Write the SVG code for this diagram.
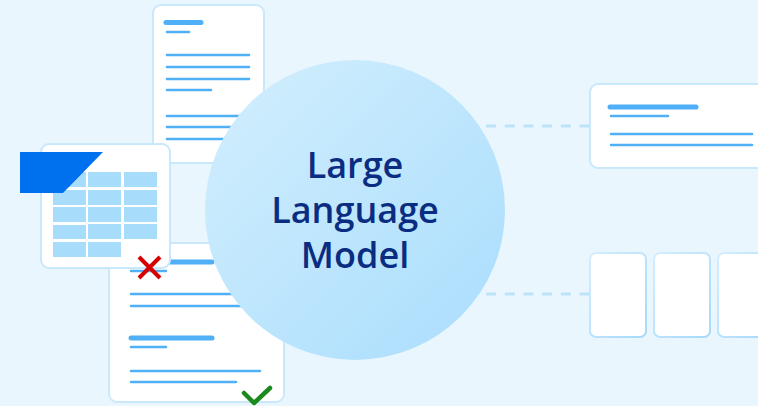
<svg xmlns="http://www.w3.org/2000/svg" width="758" height="406" viewBox="0 0 758 406">
  <defs>
    <linearGradient id="circ" x1="0" y1="0" x2="1" y2="1">
      <stop offset="0" stop-color="#d3effd"/>
      <stop offset="1" stop-color="#a9ddfd"/>
    </linearGradient>
    <linearGradient id="edge" x1="0" y1="0" x2="1" y2="1">
      <stop offset="0" stop-color="#d4eefd"/>
      <stop offset="1" stop-color="#a6d9fb"/>
    </linearGradient>
    <style>
      .card { fill: #ffffff; stroke: #c9e8fc; stroke-width: 2; }
      .card2 { fill: #ffffff; stroke: url(#edge); stroke-width: 2; }
      .ln { stroke: #4fb0f8; stroke-width: 2.5; stroke-linecap: round; }
      .hd { stroke: #4fb0f8; stroke-width: 5; stroke-linecap: round; }
      .cell { fill: #a8dcfb; }
      .dash { stroke: #bde3fb; stroke-width: 3; stroke-dasharray: 10 8.7; fill: none; }
      .title { font-family: "Open Sans", "Liberation Sans", sans-serif; font-weight: 600; font-size: 36px; fill: #0a2d82; text-anchor: middle; }
    </style>
  </defs>
  <rect x="0" y="0" width="758" height="406" fill="#eaf6fe"/>

  <g id="doc-top">
    <rect class="card" x="153" y="5" width="111" height="158" rx="8"/>
    <line class="hd" x1="166" y1="22.5" x2="201" y2="22.5"/>
    <line class="ln" x1="167" y1="32" x2="189" y2="32"/>
    <line class="ln" x1="167" y1="55" x2="249" y2="55"/>
    <line class="ln" x1="167" y1="67" x2="249" y2="67"/>
    <line class="ln" x1="167" y1="79" x2="249" y2="79"/>
    <line class="ln" x1="167" y1="90" x2="211" y2="90"/>
    <line class="ln" x1="167" y1="116" x2="249" y2="116"/>
    <line class="ln" x1="167" y1="127" x2="249" y2="127"/>
    <line class="ln" x1="167" y1="139" x2="249" y2="139"/>
  </g>

  <g id="doc-bottom">
    <rect class="card" x="109" y="243" width="175" height="159" rx="8"/>
    <line class="hd" x1="130" y1="262" x2="212" y2="262"/>
    <line class="ln" x1="131" y1="271" x2="166" y2="271"/>
    <line class="ln" x1="131" y1="294" x2="260" y2="294"/>
    <line class="ln" x1="131" y1="306" x2="260" y2="306"/>
    <line class="hd" x1="131" y1="338" x2="212" y2="338"/>
    <line class="ln" x1="131" y1="347" x2="166" y2="347"/>
    <line class="ln" x1="131" y1="371" x2="260" y2="371"/>
    <line class="ln" x1="131" y1="382" x2="236" y2="382"/>
  </g>

  <g id="table-card">
    <rect class="card" x="41" y="144" width="129" height="124" rx="8"/>
    <rect class="cell" x="53" y="172" width="33" height="15"/>
    <rect class="cell" x="88" y="172" width="33" height="15"/>
    <rect class="cell" x="124" y="172" width="33" height="15"/>
    <rect class="cell" x="53" y="190" width="33" height="15"/>
    <rect class="cell" x="88" y="190" width="33" height="15"/>
    <rect class="cell" x="124" y="190" width="33" height="15"/>
    <rect class="cell" x="53" y="207" width="33" height="15"/>
    <rect class="cell" x="88" y="207" width="33" height="15"/>
    <rect class="cell" x="124" y="207" width="33" height="15"/>
    <rect class="cell" x="53" y="225" width="33" height="14"/>
    <rect class="cell" x="88" y="224" width="33" height="15"/>
    <rect class="cell" x="124" y="224" width="33" height="15"/>
    <rect class="cell" x="53" y="242" width="33" height="15"/>
    <rect class="cell" x="88" y="242" width="33" height="15"/>
    <polygon points="20,152 103,152 63,193 20,193" fill="#0071ee"/>
  </g>

  <g id="llm">
    <circle cx="355" cy="210" r="150" fill="url(#circ)"/>
    <text class="title" x="355" y="178">Large</text>
    <text class="title" x="355" y="223">Language</text>
    <text class="title" x="355" y="268">Model</text>
  </g>

  <g id="connectors">
    <line class="dash" x1="486" y1="126" x2="590" y2="126"/>
    <line class="dash" x1="486" y1="294" x2="590" y2="294"/>
  </g>

  <g id="summary-card">
    <rect class="card" x="590" y="84" width="180" height="84" rx="8"/>
    <line class="hd" x1="610" y1="107" x2="696" y2="107"/>
    <line class="ln" x1="611" y1="116" x2="668" y2="116"/>
    <line class="ln" x1="611" y1="134" x2="752" y2="134"/>
    <line class="ln" x1="611" y1="145" x2="752" y2="145"/>
  </g>

  <g id="tile-1"><rect class="card2" x="590" y="253" width="56" height="84" rx="6"/></g>
  <g id="tile-2"><rect class="card2" x="654" y="253" width="56" height="84" rx="6"/></g>
  <g id="tile-3"><rect class="card2" x="718" y="253" width="56" height="84" rx="6"/></g>

  <g id="cross">
    <path d="M139,257 L160,278 M160,257 L139,278" stroke="#d50000" stroke-width="4" fill="none"/>
  </g>
  <g id="check">
    <path d="M244,393 L254,403 L270,388" stroke="#1a8a1e" stroke-width="4.5" stroke-linecap="round" stroke-linejoin="round" fill="none"/>
  </g>
</svg>
